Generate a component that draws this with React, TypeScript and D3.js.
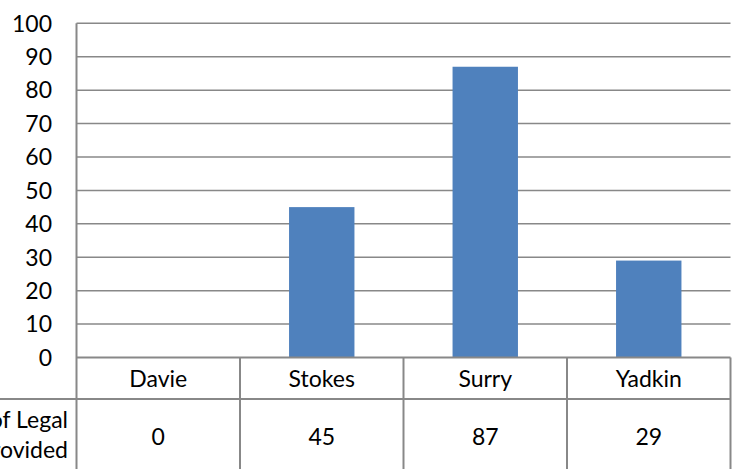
import React from 'react';
import * as d3 from 'd3';

const counties = ['Davie', 'Stokes', 'Surry', 'Yadkin'];
const casesProvided = [0, 45, 87, 29];
const yTicks = [0, 10, 20, 30, 40, 50, 60, 70, 80, 90, 100];
const rowHeader = ['# of Legal', 'Services Provided'];

const W = 737;
const H = 469;
const FONT = 'Lato, "Open Sans", sans-serif';
const FS = 23;
const GRID = '#888888';
const BAR = '#4F81BD';

export default function App() {
  const left = 76.5;
  const right = 730.5;
  const top = 23.3;
  const bottom = 357.5;
  const catRowBottom = 399;

  const x = d3.scaleBand<string>().domain(counties).range([left, right]).paddingInner(0).paddingOuter(0);
  const y = d3.scaleLinear().domain([0, 100]).range([bottom, top]);
  const barW = x.bandwidth() * 0.4;

  return (
    <svg
      width={W}
      height={H}
      style={{ position: 'absolute', left: 0, top: 0, background: '#fff' }}
      fontFamily={FONT}
    >
      {/* gridlines + y labels */}
      {yTicks.map(t => (
        <g key={t}>
          {t > 0 && (
            <line x1={left} x2={right} y1={y(t)} y2={y(t)} stroke={GRID} strokeWidth={1.5} />
          )}
          <text x={52} y={y(t)} dy="0.36em" textAnchor="end" fontSize={FS} fill="#000">
            {t}
          </text>
        </g>
      ))}
      {/* y axis */}
      <line x1={left} x2={left} y1={top} y2={H} stroke={GRID} strokeWidth={2} />

      {/* bars */}
      {counties.map((c, i) => (
        <rect
          key={c}
          x={(x(c) ?? 0) + (x.bandwidth() - barW) / 2}
          y={y(casesProvided[i])}
          width={barW}
          height={bottom - y(casesProvided[i])}
          fill={BAR}
        />
      ))}

      {/* data table */}
      <line x1={left} x2={right} y1={bottom} y2={bottom} stroke={GRID} strokeWidth={2} />
      <line x1={0} x2={right} y1={catRowBottom} y2={catRowBottom} stroke={GRID} strokeWidth={2} />
      {counties.map((c, i) => (
        <g key={c}>
          <line
            x1={(x(c) ?? 0) + x.bandwidth()}
            x2={(x(c) ?? 0) + x.bandwidth()}
            y1={bottom}
            y2={H}
            stroke={GRID}
            strokeWidth={2}
          />
          <text
            x={(x(c) ?? 0) + x.bandwidth() / 2}
            y={(bottom + catRowBottom) / 2}
            dy="0.36em"
            textAnchor="middle"
            fontSize={FS}
          >
            {c}
          </text>
          <text
            x={(x(c) ?? 0) + x.bandwidth() / 2}
            y={437}
            dy="0.36em"
            textAnchor="middle"
            fontSize={FS}
          >
            {casesProvided[i]}
          </text>
        </g>
      ))}
      {rowHeader.map((line, i) => (
        <text key={line} x={68} y={428 + i * 30} textAnchor="end" fontSize={FS}>
          {line}
        </text>
      ))}
    </svg>
  );
}
